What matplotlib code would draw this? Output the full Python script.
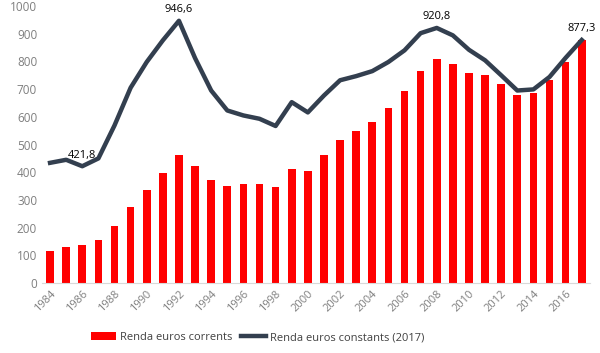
import matplotlib.pyplot as plt
import numpy as np

years = np.arange(1984, 2018)
renda_corrents = [115, 131, 136, 156, 207, 276, 336, 396, 461, 424,
                  373, 351, 356, 356, 348, 413, 406, 463, 517, 548,
                  582, 633, 693, 764, 810, 791, 759, 750, 717, 679,
                  685, 732, 799, 877.3]
renda_constants = [434, 445, 421.8, 450, 569, 705, 798, 876, 946.6, 812,
                   695, 623, 605, 593, 567, 653, 616, 677, 732, 747,
                   765, 798, 840, 902, 920.8, 894, 842, 804, 750, 695,
                   699, 744, 813, 877.3]
label_years = [1986, 1992, 2008, 2017]

plt.rcParams['font.family'] = ['Open Sans', 'DejaVu Sans']
fig = plt.figure(figsize=(6, 3.53), dpi=100)
ax = fig.add_axes([0.07, 0.198, 0.913, 0.785])

bars = ax.bar(years, renda_corrents, width=0.48, color='#ff0000',
              label='Renda euros corrents')
line, = ax.plot(years, renda_constants, color='#333f4f', lw=3.2,
                solid_joinstyle='round', label='Renda euros constants (2017)')

for y in label_years:
    v = renda_constants[y - 1984]
    ax.annotate(f'{v:.1f}'.replace('.', ','), (y, v), xytext=(0, 4),
                textcoords='offset points', ha='center', va='bottom',
                fontsize=8, color='black')

ax.set_xlim(1983.5, 2017.5)
ax.set_ylim(0, 1000)
ax.set_yticks(range(0, 1001, 100))
ax.set_xticks(years[::2])
ax.set_xticklabels([str(y) for y in years[::2]], rotation=45,
                   ha='right', rotation_mode='anchor')
ax.tick_params(axis='both', length=0, colors='#7f7f7f', labelsize=8.5)
ax.tick_params(axis='x', pad=4, labelsize=8)
for s in ['top', 'right', 'left']:
    ax.spines[s].set_visible(False)
ax.spines['bottom'].set_color('#d9d9d9')

fig.legend([bars, line], ['Renda euros corrents', 'Renda euros constants (2017)'],
           loc='lower center', bbox_to_anchor=(0.43, 0.0), ncol=2,
           frameon=False, fontsize=8, handlelength=2.2, columnspacing=0.8,
           handletextpad=0.4, labelcolor='#404040')

fig.savefig('out.png', dpi=100)
